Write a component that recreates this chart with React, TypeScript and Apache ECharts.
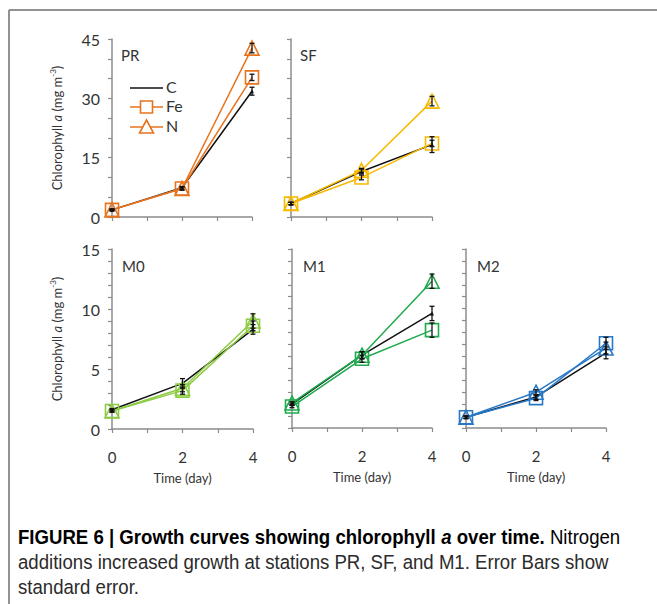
import React, { useEffect, useRef } from "react";
import * as echarts from "echarts";

// Sampling days
const days = [0, 2, 4];

// Station names, one panel each
const stations = ["PR", "SF", "M0", "M1", "M2"];
const stationColors = ["#E8731E", "#F7B900", "#8DCB44", "#1FAA4E", "#2878C8"];

// Chlorophyll a (mg m-3) per treatment, and standard errors
const PR_C = [1.8, 7.4, 31.8];
const PR_C_err = [0.2, 0.3, 1.0];
const PR_Fe = [1.8, 7.2, 35.3];
const PR_Fe_err = [0.2, 0.4, 0.8];
const PR_N = [1.8, 7.2, 42.7];
const PR_N_err = [0.2, 0.4, 1.2];

const SF_C = [3.4, 11.5, 18.3];
const SF_C_err = [0.3, 0.6, 2.0];
const SF_Fe = [3.4, 10.0, 18.6];
const SF_Fe_err = [0.3, 0.6, 0.8];
const SF_N = [3.4, 11.8, 29.3];
const SF_N_err = [0.3, 0.5, 1.2];

const M0_C = [1.6, 3.8, 8.3];
const M0_C_err = [0.1, 0.4, 0.4];
const M0_Fe = [1.5, 3.2, 8.6];
const M0_Fe_err = [0.1, 0.3, 0.4];
const M0_N = [1.5, 3.4, 9.0];
const M0_N_err = [0.1, 0.3, 0.6];

const M1_C = [2.0, 6.1, 9.6];
const M1_C_err = [0.1, 0.3, 0.6];
const M1_Fe = [1.8, 5.8, 8.2];
const M1_Fe_err = [0.1, 0.3, 0.6];
const M1_N = [2.1, 6.1, 12.3];
const M1_N_err = [0.1, 0.3, 0.6];

const M2_C = [0.9, 2.6, 6.3];
const M2_C_err = [0.1, 0.2, 0.5];
const M2_Fe = [0.9, 2.5, 7.1];
const M2_Fe_err = [0.1, 0.2, 0.5];
const M2_N = [0.9, 3.0, 6.7];
const M2_N_err = [0.1, 0.2, 0.5];

// Y-axis ranges: top row 0–45, bottom row 0–15
const yMax = [45, 45, 15, 15, 15];
const yMinor = [5, 5, 1, 1, 1];
const yLabelStep = [15, 15, 5, 5, 5];

// Caption lines
const captionBold = "FIGURE 6 | Growth curves showing chlorophyll ";
const captionBoldItalic = "a";
const captionBoldEnd = " over time.";
const captionLines = [
  " Nitrogen",
  "additions increased growth at stations PR, SF, and M1. Error Bars show",
  "standard error.",
];

const panelData = [
  { C: PR_C, Ce: PR_C_err, Fe: PR_Fe, Fee: PR_Fe_err, N: PR_N, Ne: PR_N_err },
  { C: SF_C, Ce: SF_C_err, Fe: SF_Fe, Fee: SF_Fe_err, N: SF_N, Ne: SF_N_err },
  { C: M0_C, Ce: M0_C_err, Fe: M0_Fe, Fee: M0_Fe_err, N: M0_N, Ne: M0_N_err },
  { C: M1_C, Ce: M1_C_err, Fe: M1_Fe, Fee: M1_Fe_err, N: M1_N, Ne: M1_N_err },
  { C: M2_C, Ce: M2_C_err, Fe: M2_Fe, Fee: M2_Fe_err, N: M2_N, Ne: M2_N_err },
];

// Plot areas
const grids = [
  { left: 112, top: 39, width: 140, height: 178 },
  { left: 291, top: 39, width: 141, height: 178 },
  { left: 112, top: 249, width: 141, height: 180 },
  { left: 292, top: 249, width: 140, height: 179 },
  { left: 466, top: 249, width: 140, height: 179 },
];
const labelPos = [
  [121, 56],
  [300, 56],
  [122, 267],
  [303, 267],
  [477, 267],
];

const AXIS = "#8c8c8c";
const TEXT = "#333";
const FONT = "Lato, 'Open Sans', sans-serif";
const CAP = "'Liberation Sans', Arial, sans-serif";

const yName = "{n|Chlorophyll }{i|a}{n| (mg m}{s|-3}{n|)}";
const yNameRich = {
  n: { fontSize: 13, fontFamily: FONT, color: TEXT, lineHeight: 16 },
  i: { fontSize: 13, fontFamily: FONT, color: TEXT, fontStyle: "italic", lineHeight: 16 },
  s: { fontSize: 8, fontFamily: FONT, color: TEXT, verticalAlign: "top", lineHeight: 16 },
};

function errorRender(params: any, api: any) {
  const x = api.value(0);
  const lo = api.coord([x, api.value(1)]);
  const hi = api.coord([x, api.value(2)]);
  const w = 2.5;
  const st = { stroke: "#111", lineWidth: 1.3 };
  return {
    type: "group",
    children: [
      { type: "line", shape: { x1: lo[0], y1: lo[1], x2: hi[0], y2: hi[1] }, style: st },
      { type: "line", shape: { x1: lo[0] - w, y1: lo[1], x2: lo[0] + w, y2: lo[1] }, style: st },
      { type: "line", shape: { x1: hi[0] - w, y1: hi[1], x2: hi[0] + w, y2: hi[1] }, style: st },
    ],
  };
}

function buildOption() {
  const grid: any[] = [];
  const xAxis: any[] = [];
  const yAxis: any[] = [];
  const series: any[] = [];
  const graphic: any[] = [];

  stations.forEach((st, i) => {
    grid.push({ ...grids[i], containLabel: false });
    const bottom = i >= 2;
    xAxis.push({
      type: "value",
      gridIndex: i,
      min: 0,
      max: 4,
      interval: 1,
      axisLine: { lineStyle: { color: AXIS, width: 1.5 } },
      axisTick: { show: true, length: 4, lineStyle: { color: AXIS, width: 1.2 } },
      splitLine: { show: false },
      axisLabel: {
        show: bottom,
        margin: 20,
        fontSize: 15,
        fontFamily: FONT,
        color: TEXT,
        formatter: (v: number) => (v % 2 === 0 ? String(v) : ""),
      },
      name: bottom ? "Time (day)" : "",
      nameLocation: "middle",
      nameGap: 42,
      nameTextStyle: { fontSize: 13, fontFamily: FONT, color: TEXT },
    });
    const showY = i === 0 || i === 2;
    yAxis.push({
      type: "value",
      gridIndex: i,
      min: 0,
      max: yMax[i],
      interval: yMinor[i],
      axisLine: { show: true, lineStyle: { color: AXIS, width: 1.5 } },
      axisTick: { show: true, length: 4, lineStyle: { color: AXIS, width: 1.2 } },
      splitLine: { show: false },
      axisLabel: {
        show: showY,
        margin: 12,
        fontSize: 16,
        fontFamily: FONT,
        color: TEXT,
        formatter: (v: number) => (v % yLabelStep[i] === 0 ? String(v) : ""),
      },
      name: showY ? yName : "",
      nameLocation: "middle",
      nameGap: 47,
      nameRotate: 90,
      nameTextStyle: { rich: yNameRich },
    });

    const d = panelData[i];
    const col = stationColors[i];
    const pts = (arr: number[]) => days.map((x, k) => [x, arr[k]]);
    const errs = (arr: number[], e: number[]) =>
      days.map((x, k) => [x, arr[k] - e[k], arr[k] + e[k]]);

    series.push({
      name: "C",
      type: "line",
      xAxisIndex: i,
      yAxisIndex: i,
      data: pts(d.C),
      symbol: "triangle",
      symbolSize: 4,
      itemStyle: { color: "#111" },
      lineStyle: { color: "#111", width: 1.5 },
      z: 3,
    });
    series.push({
      name: "Fe",
      type: "line",
      xAxisIndex: i,
      yAxisIndex: i,
      data: pts(d.Fe),
      symbol: "rect",
      symbolSize: 13,
      showAllSymbol: true,
      itemStyle: { color: "rgba(255,255,255,0)", borderColor: col, borderWidth: 1.6 },
      lineStyle: { color: col, width: 1.5 },
      z: 4,
    });
    series.push({
      name: "N",
      type: "line",
      xAxisIndex: i,
      yAxisIndex: i,
      data: pts(d.N),
      symbol: "triangle",
      symbolSize: 14,
      itemStyle: { color: "rgba(255,255,255,0)", borderColor: col, borderWidth: 1.6 },
      lineStyle: { color: col, width: 1.5 },
      z: 4,
    });
    [errs(d.C, d.Ce), errs(d.Fe, d.Fee), errs(d.N, d.Ne)].forEach((ed) => {
      series.push({
        type: "custom",
        xAxisIndex: i,
        yAxisIndex: i,
        data: ed,
        encode: { x: 0, y: [1, 2] },
        renderItem: errorRender,
        clip: false,
        z: 5,
      });
    });

    graphic.push({
      type: "text",
      left: labelPos[i][0],
      top: labelPos[i][1] - 9,
      style: { text: st, fontSize: 15, fontFamily: FONT, fill: TEXT },
    });
  });

  // Legend drawn by hand in the PR panel
  const lx1 = 130;
  const lx2 = 163;
  const orange = stationColors[0];
  const legRows = [
    { y: 88, name: "C", color: "#111", mark: "" },
    { y: 107, name: "Fe", color: orange, mark: "rect" },
    { y: 127, name: "N", color: orange, mark: "tri" },
  ];
  legRows.forEach((r) => {
    graphic.push({
      type: "line",
      shape: { x1: lx1, y1: r.y, x2: lx2, y2: r.y },
      style: { stroke: r.color, lineWidth: 1.6 },
    });
    if (r.mark === "rect") {
      graphic.push({
        type: "rect",
        shape: { x: (lx1 + lx2) / 2 - 6, y: r.y - 6, width: 12, height: 12 },
        style: { fill: "#fff", stroke: r.color, lineWidth: 1.6 },
      });
    } else if (r.mark === "tri") {
      const cx = (lx1 + lx2) / 2;
      graphic.push({
        type: "polygon",
        shape: { points: [[cx, r.y - 7], [cx + 7, r.y + 6], [cx - 7, r.y + 6]] },
        style: { fill: "#fff", stroke: r.color, lineWidth: 1.6 },
      });
    }
    graphic.push({
      type: "text",
      left: lx2 + 3,
      top: r.y - 10,
      style: { text: r.name, fontSize: 16, fontFamily: FONT, fill: TEXT },
    });
  });

  // Frame
  graphic.push({
    type: "line",
    shape: { x1: 9, y1: 10, x2: 657, y2: 10 },
    style: { stroke: "#6e6e6e", lineWidth: 1.5 },
  });
  graphic.push({
    type: "line",
    shape: { x1: 9, y1: 10, x2: 9, y2: 604 },
    style: { stroke: "#6e6e6e", lineWidth: 1.5 },
  });

  // Caption, slightly condensed
  const capSize = 19.5;
  const capScale = 0.955;
  const capRich = {
    b: { fontSize: capSize, fontFamily: CAP, fontWeight: "bold", color: "#1a1a1a" },
    bi: { fontSize: capSize, fontFamily: CAP, fontWeight: "bold", fontStyle: "italic", color: "#1a1a1a" },
    r: { fontSize: capSize, fontFamily: CAP, color: "#2b2b2b" },
  };
  const capY = [537, 562, 587];
  graphic.push({
    type: "text",
    x: 18,
    y: capY[0],
    scaleX: capScale,
    style: {
      text: `{b|${captionBold}}{bi|${captionBoldItalic}}{b|${captionBoldEnd}}{r|${captionLines[0]}}`,
      rich: capRich,
      verticalAlign: "middle",
      align: "left",
    },
  });
  [1, 2].forEach((k) => {
    graphic.push({
      type: "text",
      x: 18,
      y: capY[k],
      scaleX: capScale,
      style: {
        text: captionLines[k],
        fontSize: capSize,
        fontFamily: CAP,
        fill: "#2b2b2b",
        verticalAlign: "middle",
        align: "left",
      },
    });
  });

  return {
    animation: false,
    backgroundColor: "#fff",
    grid,
    xAxis,
    yAxis,
    series,
    graphic,
  };
}

export default function App() {
  const ref = useRef<HTMLDivElement>(null);
  useEffect(() => {
    if (!ref.current) return;
    const chart = echarts.init(ref.current, undefined, { renderer: "svg" });
    chart.setOption(buildOption() as any);
    return () => chart.dispose();
  }, []);
  return (
    <div
      ref={ref}
      style={{ position: "fixed", left: 0, top: 0, width: 657, height: 604, background: "#fff" }}
    />
  );
}
